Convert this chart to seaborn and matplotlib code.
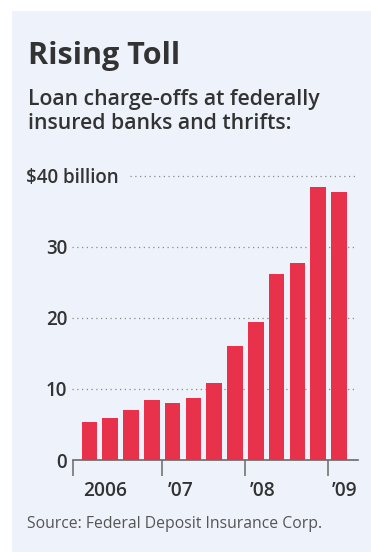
import matplotlib
matplotlib.use("Agg")
import matplotlib.pyplot as plt
import seaborn as sns
import pandas as pd
from matplotlib.patches import Rectangle
from matplotlib import transforms

# ---- data ----
quarters = ["Q1 06", "Q2 06", "Q3 06", "Q4 06",
            "Q1 07", "Q2 07", "Q3 07", "Q4 07",
            "Q1 08", "Q2 08", "Q3 08", "Q4 08",
            "Q1 09"]
charge_offs = [5.4, 5.9, 7.0, 8.4, 8.0, 8.7, 10.8, 16.1, 19.4, 26.2, 27.7, 38.4, 37.7]
y_ticks = [0, 10, 20, 30]
y_tick_labels = ["0", "10", "20", "30"]
top_tick = 40
top_tick_label = "$40 billion"
grid_values = [10, 20, 30]
year_labels = ["2006", "\u201907", "\u201908", "\u201909"]
year_tick_x = [-0.79, 3.5, 7.5, 11.5]
year_label_x = [-0.33, 3.78, 7.72, 11.66]

title = "Rising Toll"
subtitle1 = "Loan charge-offs at federally"
subtitle2 = "insured banks and thrifts:"
source = "Source: Federal Deposit Insurance Corp."

# ---- style ----
sns.set_theme(style="white")
plt.rcParams["font.family"] = ["Open Sans", "DejaVu Sans"]
TXT = "#333333"
PANEL = "#eef2fb"
BAR = "#e8314a"
GRID = "#8a8a8a"
AX = "#6a6a6a"

W, H = 371, 552
fig = plt.figure(figsize=(W / 100, H / 100), dpi=100, facecolor="white")
fig.patches.append(Rectangle((12 / W, 0), 1, 1 - 11 / H, transform=fig.transFigure,
                             facecolor=PANEL, edgecolor="none", zorder=-10))

px_per_unit = (460 - 175.7) / 40
ytop = 41
ax_bottom = (H - 460) / H
ax_height = ytop * px_per_unit / H
ax = fig.add_axes([73 / W, ax_bottom, (358 - 73) / W, ax_height])
ax.set_facecolor("none")
ax.set_zorder(2)

df = pd.DataFrame({"quarter": quarters, "value": charge_offs})
sns.barplot(data=df, x="quarter", y="value", color=BAR, width=0.75,
            saturation=1, ax=ax, zorder=3, edgecolor="none")

ax.set_xlim(-0.794, 12.921)
ax.set_ylim(0, ytop)
ax.set_xlabel("")
ax.set_ylabel("")

for s in ["top", "right", "left"]:
    ax.spines[s].set_visible(False)
ax.spines["bottom"].set_color(AX)
ax.spines["bottom"].set_linewidth(1.2)
ax.spines["bottom"].set_zorder(4)

# gridlines
dot = (0, (1, 2.8))
for g in grid_values:
    ax.axhline(g, xmin=-0.005, xmax=0.985, color=GRID, lw=0.9, ls=dot, zorder=1,
               clip_on=False)
ax.axhline(top_tick, xmin=0.2, xmax=0.99, color=GRID, lw=0.9, ls=dot, zorder=1,
           clip_on=False)

# y ticks
ax.set_yticks(y_ticks, y_tick_labels)
ax.tick_params(axis="y", length=0, pad=4.3, labelsize=13.5, labelcolor=TXT)
for lab in ax.get_yticklabels():
    lab.set_fontweight("semibold")
trans_y = transforms.blended_transform_factory(fig.transFigure, ax.transData)
ax.text(26 / W, top_tick, top_tick_label, transform=trans_y, ha="left",
        va="center_baseline", fontsize=13.5, fontweight="semibold", color=TXT,
        clip_on=False)

# x ticks
ax.set_xticks(year_tick_x, [""] * len(year_tick_x))
ax.tick_params(axis="x", direction="out", length=11.5, width=1.1, color=AX,
               bottom=True)
trans_x = transforms.blended_transform_factory(ax.transData, fig.transFigure)
for xl, lab in zip(year_label_x, year_labels):
    ax.text(xl, 1 - 495.7 / H, lab, transform=trans_x, ha="left", va="baseline",
            fontsize=13.8, fontweight="semibold", color=TXT, clip_on=False)

# titles
fig.text(28 / W, 1 - 64 / H, title, fontsize=22, fontweight="bold", color=TXT,
         va="baseline")
fig.text(28 / W, 1 - 105 / H, subtitle1, fontsize=15.3, fontweight="semibold",
         color=TXT, va="baseline")
fig.text(28 / W, 1 - 129 / H, subtitle2, fontsize=15.3, fontweight="semibold",
         color=TXT, va="baseline")
fig.text(27 / W, 1 - 528 / H, source, fontsize=11.3, color="#555555",
         va="baseline")

fig.savefig("out.png", dpi=100, facecolor="white")
